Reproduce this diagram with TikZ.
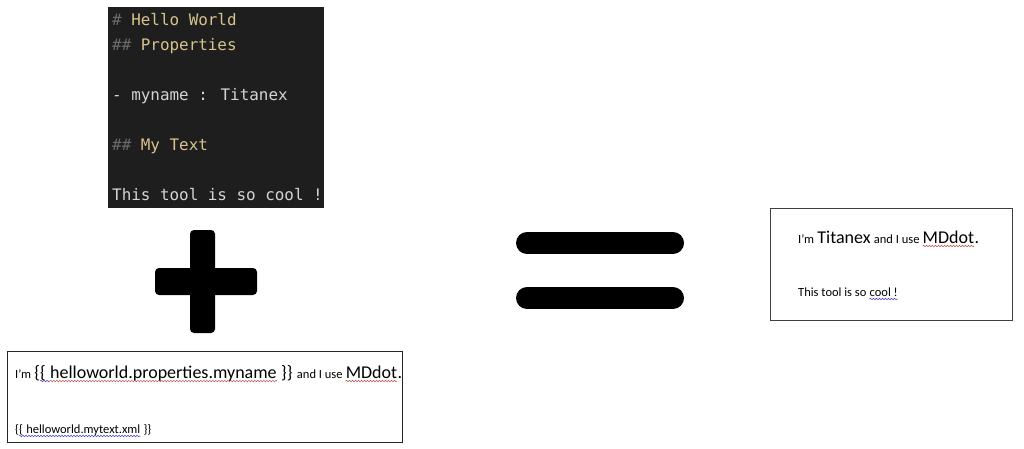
\documentclass[tikz,border=0pt]{standalone}
\usepackage{fontspec}
\setmainfont{Carlito}
\newfontfamily\codefont{DejaVu Sans Mono}
\usepackage{tikz}
\usetikzlibrary{decorations.pathmorphing}
\definecolor{codebg}{HTML}{1E1E1E}
\definecolor{codehash}{HTML}{6B6B6B}
\definecolor{codehead}{HTML}{D9C38C}
\definecolor{codetxt}{HTML}{D4D4D4}
\definecolor{spellred}{HTML}{C0504D}
\definecolor{spellblue}{HTML}{4040C0}
\newcommand{\Code}{(108,7) rectangle (324,208)}
\newcommand{\Tmpl}{(7,351) rectangle (402,442)}
\newcommand{\Res}{(770,208) rectangle (1012,320)}
\newcommand{\tsp}{\ \null}

\begin{document}
\begin{tikzpicture}[x=1pt,y=-1pt,
  every node/.style={inner sep=0pt,anchor=base west},
  code/.style={font=\codefont\fontsize{15.9}{18}\selectfont,text=codetxt},
  sm/.style={font=\fontsize{12.5}{14}\selectfont},
  lg/.style={font=\fontsize{18}{20}\selectfont},
  wavyred/.style={draw=spellred,line width=0.5pt,decorate,decoration={snake,amplitude=0.8pt,segment length=3pt}},
  wavyblue/.style={draw=spellblue,line width=0.5pt,decorate,decoration={snake,amplitude=0.8pt,segment length=3pt}}]
\useasboundingbox (0,0) rectangle (1024,448);
\fill[white] (0,0) rectangle (1024,448);
% markdown source
\fill[codebg] \Code;
\node[code] (h1) at (112,25) {\textcolor{codehash}{\#} \textcolor{codehead}{Hello World}};
\node[code] (h2) at (112,50) {\textcolor{codehash}{\#\#} \textcolor{codehead}{Properties}};
\node[code] (prop) at (112,100) {- myname : Titanex};
\node[code] (h3) at (112,150) {\textcolor{codehash}{\#\#} \textcolor{codehead}{My Text}};
\node[code] (body) at (112,200) {This tool is so cool !};
% plus and equals
\fill[black,rounded corners=4] (190,230) rectangle (215,333);
\fill[black,rounded corners=4] (155,268) rectangle (257,295);
\draw[black,line width=22,line cap=round] (527,243) -- (673,243);
\draw[black,line width=22,line cap=round] (527,298) -- (673,298);
% template
\draw[black!85,line width=1] \Tmpl;
\node[sm] (t1) at (15,378) {I’m\tsp};
\node[lg] (t2) at (t1.base east) {\{\{};
\node[lg] (t3) at (t2.base east) {\ helloworld.properties.myname};
\node[lg] (t4) at (t3.base east) {\ \}\}\tsp};
\node[sm] (t5) at (t4.base east) {and I use\tsp};
\node[lg] (t6) at (t5.base east) {MDdot};
\node[lg] (t7) at (t6.base east) {.};
\draw[wavyblue] ([yshift=-3pt]t2.base) -- ([yshift=-3pt,xshift=4pt]t2.base east);
\draw[wavyred] ([yshift=-3pt,xshift=4pt]t3.base west) -- ([yshift=-3pt]t3.base east);
\draw[wavyred] ([yshift=-3pt]t6.base west) -- ([yshift=-3pt]t6.base east);
\node[sm] (x1) at (15,433) {\{\{};
\node[sm] (x2) at (x1.base east) {\ helloworld.mytext.xml};
\node[sm] (x3) at (x2.base east) {\ \}\}};
\draw[wavyblue] ([yshift=-3pt]x1.base) -- ([yshift=-3pt]x2.base east);
% result
\draw[black!75,line width=1] \Res;
\node[sm] (r1) at (798,243) {I’m\tsp};
\node[lg] (r2) at (r1.base east) {Titanex};
\node[sm] (r3) at (r2.base east) {\ and I use\tsp};
\node[lg] (r4) at (r3.base east) {MDdot};
\node[lg] (r5) at (r4.base east) {.};
\draw[wavyred] ([yshift=-3pt]r4.base west) -- ([yshift=-3pt]r4.base east);
\node[sm] (s1) at (798,296) {This tool is so\tsp};
\node[sm] (s2) at (s1.base east) {cool !};
\draw[wavyblue] ([yshift=-3pt]s2.base west) -- ([yshift=-3pt]s2.base east);
\end{tikzpicture}
\end{document}
